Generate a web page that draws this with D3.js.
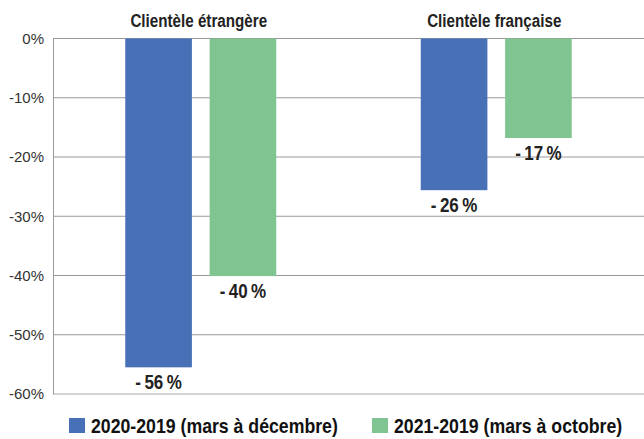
<!DOCTYPE html>
<html>
<head>
<meta charset="utf-8">
<script src="https://cdn.jsdelivr.net/npm/d3@7"></script>
<style>
  body { margin: 0; background: #fff; }
  svg text { font-family: "Liberation Sans", Arial, sans-serif; }
</style>
</head>
<body>
<svg id="chart" width="644" height="439"></svg>
<script>
// groups, series and values
var groups = ["Clientèle étrangère", "Clientèle française"];
var series = ["2020-2019 (mars à décembre)", "2021-2019 (mars à octobre)"];
var seriesColors = ["#4870b7", "#80c492"];
var values2020 = [-55.5, -25.6];
var values2021 = [-40.1, -16.8];
var valueLabels2020 = ["-\u200956\u2009%", "-\u200926\u2009%"];
var valueLabels2021 = ["-\u200940\u2009%", "-\u200917\u2009%"];
var yTicks = [0, -10, -20, -30, -40, -50, -60];

var svg = d3.select("#chart");
var margin = {top: 38.5, right: 0, bottom: 45, left: 53};
var width = 644 - margin.left - margin.right;
var height = 439 - margin.top - margin.bottom;

var g = svg.append("g").attr("transform", "translate(" + margin.left + "," + margin.top + ")");

var x0 = d3.scaleBand().domain(groups).range([0, width]);
var x1 = d3.scaleBand().domain(series).range([0, 151]).paddingInner(0.21);
var y = d3.scaleLinear().domain([0, -60]).range([0, height]);

// squeeze text horizontally, the original uses a condensed face
function narrow(sel, sx, fx, fy) {
    sel.attr("transform", function(d, i) {
        return "translate(" + fx(d, i) + "," + fy(d, i) + ") scale(" + sx + ",1)";
    });
}

// grid lines
g.selectAll(".grid").data(yTicks).enter().append("line")
    .attr("x1", 0).attr("x2", width)
    .attr("y1", function(d) { return y(d); })
    .attr("y2", function(d) { return y(d); })
    .attr("stroke", function(d) { return d === -60 ? "#aaa" : "#999"; })
    .attr("stroke-width", 1);

// y axis
var yAxis = d3.axisLeft(y).tickValues(yTicks).tickSize(0).tickPadding(9)
    .tickFormat(function(d) { return d + "%"; });
var ya = g.append("g").call(yAxis);
ya.select(".domain").attr("stroke", "#999");
ya.selectAll("text").attr("font-size", 15).attr("fill", "#333")
    .style("font-family", "'Liberation Sans', Arial, sans-serif");

// bars
var rows = groups.map(function(gr, i) {
    return [
        {group: gr, s: series[0], v: values2020[i], label: valueLabels2020[i], c: seriesColors[0]},
        {group: gr, s: series[1], v: values2021[i], label: valueLabels2021[i], c: seriesColors[1]}
    ];
});

var grp = g.selectAll(".grp").data(rows).enter().append("g")
    .attr("transform", function(d, i) {
        return "translate(" + (x0(groups[i]) + x0.bandwidth() / 2 - 75.5) + ",0)";
    });

grp.selectAll("rect").data(function(d) { return d; }).enter().append("rect")
    .attr("x", function(d) { return x1(d.s); })
    .attr("width", x1.bandwidth())
    .attr("y", y(0))
    .attr("height", function(d) { return y(d.v) - y(0); })
    .attr("fill", function(d) { return d.c; });

grp.selectAll(".vlab").data(function(d) { return d; }).enter().append("text")
    .attr("text-anchor", "middle")
    .attr("font-size", 20)
    .attr("font-weight", "bold")
    .attr("fill", "#222")
    .text(function(d) { return d.label; })
    .call(narrow, 0.85,
        function(d) { return x1(d.s) + x1.bandwidth() / 2; },
        function(d) { return y(d.v) + 22; });

// group titles
svg.selectAll(".title").data(groups).enter().append("text")
    .attr("text-anchor", "middle")
    .attr("font-size", 19)
    .attr("font-weight", "bold")
    .attr("fill", "#222")
    .text(function(d) { return d; })
    .call(narrow, 0.8,
        function(d) { return margin.left + x0(d) + x0.bandwidth() / 2 - 2; },
        function() { return 26.5; });

// legend
var legendX = [69, 372];
var leg = svg.selectAll(".leg").data(series).enter().append("g")
    .attr("transform", function(d, i) { return "translate(" + legendX[i] + ",418)"; });
leg.append("rect").attr("width", 16).attr("height", 15)
    .attr("fill", function(d, i) { return seriesColors[i]; });
leg.append("text")
    .attr("font-size", 20)
    .attr("font-weight", "bold")
    .attr("fill", "#111")
    .text(function(d) { return d; })
    .call(narrow, 0.885, function() { return 22; }, function() { return 15; });
</script>
</body>
</html>
